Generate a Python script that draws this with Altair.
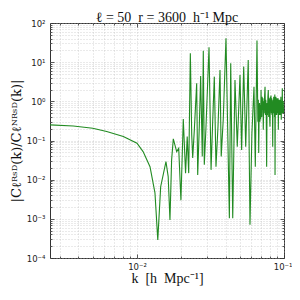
import altair as alt
import pandas as pd

# values
k = [0.00256, 0.00369, 0.00500, 0.00622, 0.00807, 0.0100, 0.0110, 0.01226, 0.01325, 0.01385,
     0.01449, 0.01574, 0.0163, 0.01676, 0.0172, 0.01766, 0.01862, 0.01922, 0.0199, 0.02065,
     0.0214, 0.02196, 0.02248, 0.02306, 0.02357, 0.02393, 0.02455, 0.02547, 0.02588, 0.02653,
     0.0271, 0.0278, 0.02825, 0.0287, 0.02944, 0.0309, 0.0319, 0.0327, 0.03357, 0.03446,
     0.03556, 0.0367, 0.0374, 0.0386, 0.0403, 0.0425, 0.0434, 0.0448, 0.0464, 0.0481,
     0.0502, 0.0515, 0.0532, 0.0549, 0.0571, 0.0587, 0.0605, 0.0625, 0.0638, 0.0655,
     0.0664, 0.0669, 0.0673, 0.0678, 0.0682, 0.0686, 0.0690, 0.0694, 0.0698, 0.0702,
     0.0706, 0.0710, 0.0715, 0.0719, 0.0723, 0.0728, 0.0733, 0.0738, 0.0743, 0.0748,
     0.0752, 0.0757, 0.0762, 0.0767, 0.0772, 0.0777, 0.0782, 0.0787, 0.0792, 0.0797,
     0.0803, 0.0807, 0.0811, 0.0816, 0.0820, 0.0825, 0.0829, 0.0834, 0.0838, 0.0842,
     0.0846, 0.0851, 0.0855, 0.0859, 0.0862, 0.0866, 0.0869, 0.0873, 0.0877, 0.0881,
     0.0885, 0.0889, 0.0892, 0.0896, 0.0900, 0.0904, 0.0908, 0.0912, 0.0915, 0.0919,
     0.0922, 0.0927, 0.0931, 0.0936, 0.0940, 0.0944, 0.0948, 0.0952, 0.0955, 0.0958,
     0.0962, 0.0967, 0.0971, 0.0974, 0.0977, 0.0981, 0.0985, 0.0988, 0.0992, 0.0995]
ratio = [0.25, 0.235, 0.206, 0.169, 0.126, 0.085, 0.052, 0.0214, 0.0046, 0.00029,
         0.0066, 0.029, 0.012, 0.00093, 0.032, 0.11, 0.052, 0.063, 0.003, 0.355,
         0.0147, 0.126, 0.0147, 16.9, 0.138, 0.036, 0.187, 2.9, 0.0132, 0.226,
         4.45, 0.039, 19.6, 0.024, 0.205, 24.0, 0.0178, 0.275, 4.27, 0.0214,
         0.226, 6.3, 0.039, 0.34, 40.7, 0.00104, 9.4, 0.00104, 3.5, 0.069,
         4.7, 0.057, 7.7, 0.069, 11.4, 0.00071, 0.155, 2.37, 0.0214, 35.5,
         0.3, 1.1, 0.048, 0.7, 0.9, 0.3, 0.8, 0.35, 1.95, 0.5,
         0.4, 1.3, 0.6, 1.2, 0.187, 1.0, 0.5, 1.4, 2.37, 0.45,
         1.1, 0.5, 0.0214, 0.9, 0.45, 1.3, 1.95, 0.4, 1.2, 0.5,
         0.226, 1.3, 0.6, 1.4, 0.5, 1.2, 0.45, 1.0, 0.069, 1.1,
         0.5, 1.3, 0.6, 1.0, 0.4, 1.5, 0.0132, 0.9, 0.45, 1.3,
         0.55, 1.1, 0.45, 1.2, 0.5, 1.0, 0.55, 1.2, 0.187, 1.0,
         0.5, 1.1, 0.45, 1.0, 0.5, 1.1, 0.45, 1.3, 0.6, 0.34,
         0.9, 0.5, 1.1, 2.15, 0.5, 1.0, 0.55, 1.0, 0.5, 0.66]

x_domain = [0.00256, 0.1]
y_domain = [1e-4, 1e2]
x_major = [0.01, 0.1]
x_minor = [0.003, 0.004, 0.005, 0.006, 0.007, 0.008, 0.009,
           0.02, 0.03, 0.04, 0.05, 0.06, 0.07, 0.08, 0.09]
y_major = [1e-4, 1e-3, 1e-2, 1e-1, 1, 10, 100]
y_minor = [m * 10.0 ** e for e in range(-4, 2) for m in range(2, 10)]

NB = "\u00a0"
title_text = f"ℓ{NB}={NB}50{NB}{NB}r{NB}={NB}3600{NB}{NB}h⁻¹{NB}Mpc"
x_title = f"k{NB}{NB}[h{NB}{NB}Mpc⁻¹]"
y_title = "|Cℓᴿˢᴰ(k)/Cℓᴺᴿˢᴰ(k)|"

df = pd.DataFrame({"k": k, "ratio": ratio})

E = "round(log(datum.value)/LN10)"
sup_expr = (f"{E} == 2 ? '10²' : {E} == 1 ? '10¹' : {E} == 0 ? '10⁰' : "
            f"{E} == -1 ? '10⁻¹' : {E} == -2 ? '10⁻²' : {E} == -3 ? '10⁻³' : "
            f"{E} == -4 ? '10⁻⁴' : ''")

xs = alt.Scale(type="log", domain=x_domain, nice=False)
ys = alt.Scale(type="log", domain=y_domain, nice=False)

def tick_axis(values, orient, size):
    return alt.Axis(values=values, orient=orient, labels=False, ticks=True, tickSize=size,
                    offset=-size, domain=False, grid=False, title="",
                    tickColor="#333333", tickWidth=0.8)

base = alt.Chart(df)

main = base.mark_line(color="forestgreen", strokeWidth=1.1, clip=True).encode(
    x=alt.X("k:Q", scale=xs, title=x_title,
            axis=alt.Axis(values=x_major, orient="bottom", labelExpr=sup_expr, ticks=False,
                          grid=False, domain=False, labelFont="DejaVu Sans", labelFontSize=8.5,
                          labelColor="#222222", labelPadding=4, titleFont="Liberation Serif",
                          titleFontSize=14, titleFontWeight="normal", titleColor="#111111",
                          titlePadding=1, labelFlush=True, labelFlushOffset=8)),
    y=alt.Y("ratio:Q", scale=ys, title=y_title,
            axis=alt.Axis(values=y_major, orient="left", labelExpr=sup_expr, ticks=False,
                          grid=False, domain=False, labelFont="DejaVu Sans", labelFontSize=8.5,
                          labelColor="#222222", labelPadding=5, titleFont="DejaVu Serif",
                          titleFontSize=13, titleFontWeight="normal", titleColor="#111111",
                          titlePadding=3, labelFlush=False)),
)

def ghost(xaxis, yaxis):
    return base.mark_line(strokeOpacity=0).encode(
        x=alt.X("k:Q", scale=xs, axis=xaxis),
        y=alt.Y("ratio:Q", scale=ys, axis=yaxis),
    )

grid_layer = ghost(
    alt.Axis(values=x_major + x_minor, orient="bottom", labels=False, ticks=False, domain=False,
             grid=True, gridColor="#bbbbbb", gridDash=[1, 2], gridWidth=0.6, title=""),
    alt.Axis(values=y_major + y_minor, orient="left", labels=False, ticks=False, domain=False,
             grid=True, gridColor="#bbbbbb", gridDash=[1, 2], gridWidth=0.6, title=""),
)
maj_bl = ghost(tick_axis(x_major, "bottom", 4), tick_axis(y_major, "left", 4))
min_bl = ghost(tick_axis(x_minor, "bottom", 2), tick_axis(y_minor, "left", 2))
maj_tr = ghost(tick_axis(x_major, "top", 4), tick_axis(y_major, "right", 4))
min_tr = ghost(tick_axis(x_minor, "top", 2), tick_axis(y_minor, "right", 2))

chart = alt.layer(grid_layer, maj_bl, min_bl, maj_tr, min_tr, main).resolve_axis(
    x="independent", y="independent"
).properties(
    width=234, height=235,
    title=alt.TitleParams(title_text, font="Liberation Serif", fontSize=14,
                          fontWeight="normal", color="#111111", offset=-6),
    autosize=alt.AutoSizeParams(type="none"),
    padding={"left": 42, "top": 15, "right": 8, "bottom": 34},
).configure_view(stroke="#333333", strokeWidth=1)

chart.save("out.html", embed_options={"renderer": "svg", "actions": False})
